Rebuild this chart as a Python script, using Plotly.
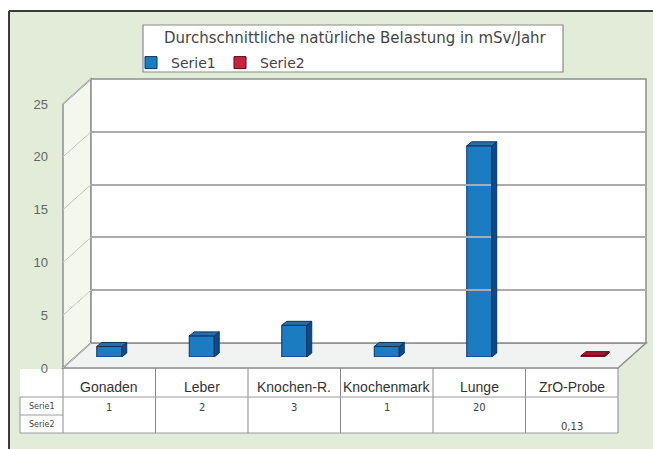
import plotly.graph_objects as go

# ---- data -------------------------------------------------------------
categories = ["Gonaden", "Leber", "Knochen-R.", "Knochenmark", "Lunge", "ZrO-Probe"]
serie1 = [1, 2, 3, 1, 20, None]
serie2 = [None, None, None, None, None, 0.13]
series_names = ["Serie1", "Serie2"]
y_ticks = [0, 5, 10, 15, 20, 25]
title_text = "Durchschnittliche natürliche Belastung in mSv/Jahr"

# ---- page geometry (pixels) ------------------------------------------
W, H = 653, 449


def px(x):
    return x / W


def py(y):
    return 1 - y / H


FRONT_L, FRONT_R = 63, 618        # front edge of the floor
FRONT_BOTTOM, FRONT_TOP = 368, 104  # value 0 / value 25 on the front plane
DEPTH_X, DEPTH_Y = 28, -25        # offset from front plane to back wall
BAR_LIFT = 11                     # bars stand part-way into the box
Y_MAX = 25
n = len(categories)
col_w = (FRONT_R - FRONT_L) / n
unit_px = (FRONT_BOTTOM - FRONT_TOP) / Y_MAX

front_xdom = [px(FRONT_L), px(FRONT_R)]
front_ydom = [py(FRONT_BOTTOM), py(FRONT_TOP)]
bar_ydom = [py(FRONT_BOTTOM - BAR_LIFT), py(FRONT_TOP - BAR_LIFT)]
back_xdom = [px(FRONT_L + DEPTH_X), px(FRONT_R + DEPTH_X)]
back_ydom = [py(FRONT_BOTTOM + DEPTH_Y), py(FRONT_TOP + DEPTH_Y)]

# bar extrusion, in axis units
SIDE_DX = 5 / col_w
TOP_DY = 4 / unit_px

styles = [
    dict(width=0.27, offset=-0.135, front="#1b7cc1", side="#0d4b86",
         top="#2a6ea9", edge="#0a3361"),
    dict(width=0.25, offset=0.10, front="#c8233f", side="#7c1124",
         top="#9b1a2f", edge="#5a0a16"),
]

GREEN = "#e3ecd8"
EDGE = "#8e8e8e"
FONT = "DejaVu Sans, Liberation Sans, Arial, sans-serif"
SANS = "Liberation Sans, Arial, sans-serif"

fig = go.Figure()

# invisible carriers so every axis pair gets drawn
fig.add_trace(go.Scatter(x=categories, y=[None] * n, xaxis="x", yaxis="y",
                         showlegend=False, hoverinfo="skip"))
fig.add_trace(go.Scatter(x=categories, y=[None] * n, xaxis="x3", yaxis="y3",
                         showlegend=False, hoverinfo="skip"))

shapes = []
annotations = []

# front faces of the columns + their side/top faces
for name, vals, st in zip(series_names, [serie1, serie2], styles):
    fig.add_trace(go.Bar(
        x=categories, y=vals, name=name, xaxis="x2", yaxis="y2",
        width=st["width"], offset=st["offset"],
        marker=dict(color=st["front"], line=dict(color=st["edge"], width=1)),
        hoverinfo="skip",
    ))
    for i, v in enumerate(vals):
        if v is None:
            continue
        xl = i + st["offset"]
        xr = xl + st["width"]
        side = (f"M {xr},0 L {xr + SIDE_DX},{TOP_DY} "
                f"L {xr + SIDE_DX},{v + TOP_DY} L {xr},{v} Z")
        top = (f"M {xl},{v} L {xl + SIDE_DX},{v + TOP_DY} "
               f"L {xr + SIDE_DX},{v + TOP_DY} L {xr},{v} Z")
        for path, col in ((side, st["side"]), (top, st["top"])):
            shapes.append(dict(type="path", path=path, xref="x2", yref="y2",
                               fillcolor=col, line=dict(color=st["edge"], width=1),
                               layer="above"))

# ---- background panel and frame --------------------------------------
shapes.append(dict(type="rect", xref="paper", yref="paper", x0=px(9), x1=1,
                   y0=0, y1=py(11), fillcolor=GREEN, line=dict(width=0),
                   layer="below"))
shapes.append(dict(type="line", xref="paper", yref="paper", x0=px(9), x1=px(9),
                   y0=0, y1=py(11), line=dict(color="#3a3a3a", width=2), layer="below"))
shapes.append(dict(type="line", xref="paper", yref="paper", x0=px(9), x1=1,
                   y0=py(11), y1=py(11), line=dict(color="#3a3a3a", width=2), layer="below"))


def poly(points):
    return "M " + " L ".join(f"{px(x)},{py(y)}" for x, y in points) + " Z"


# left wall
shapes.append(dict(type="path", xref="paper", yref="paper", layer="below",
                   path=poly([(FRONT_L, FRONT_BOTTOM), (FRONT_L, FRONT_TOP),
                              (FRONT_L + DEPTH_X, FRONT_TOP + DEPTH_Y),
                              (FRONT_L + DEPTH_X, FRONT_BOTTOM + DEPTH_Y)]),
                   fillcolor="#f4f7ee", line=dict(color=EDGE, width=1.5)))
# floor
shapes.append(dict(type="path", xref="paper", yref="paper", layer="below",
                   path=poly([(FRONT_L, FRONT_BOTTOM), (FRONT_R, FRONT_BOTTOM),
                              (FRONT_R + DEPTH_X, FRONT_BOTTOM + DEPTH_Y),
                              (FRONT_L + DEPTH_X, FRONT_BOTTOM + DEPTH_Y)]),
                   fillcolor="#f1f2f2", line=dict(color=EDGE, width=1.5)))
# back wall
shapes.append(dict(type="rect", xref="x3 domain", yref="y3 domain", x0=0, x1=1,
                   y0=0, y1=1, fillcolor="white", line=dict(color=EDGE, width=1.5),
                   layer="below"))
# grid lines running across the left wall
for t in y_ticks:
    yf = FRONT_BOTTOM - t * unit_px
    shapes.append(dict(type="line", xref="paper", yref="paper", layer="below",
                       x0=px(FRONT_L), y0=py(yf),
                       x1=px(FRONT_L + DEPTH_X), y1=py(yf + DEPTH_Y),
                       line=dict(color="#c4c4c4", width=1)))

# ---- legend box with title -------------------------------------------
shapes.append(dict(type="rect", xref="paper", yref="paper", layer="below",
                   x0=px(143), x1=px(563), y0=py(72), y1=py(25),
                   fillcolor="white", line=dict(color="#8a8a8a", width=1.2)))
annotations.append(dict(text=title_text, xref="paper", yref="paper",
                        x=px(355), y=py(38), showarrow=False,
                        xanchor="center", yanchor="middle",
                        font=dict(family=FONT, size=15, color="#454545")))

# ---- data table under the chart --------------------------------------
TAB_L, TAB_TOP, TAB_HEAD, TAB_MID, TAB_BOT = 20, FRONT_BOTTOM, 397, 415, 433
shapes.append(dict(type="rect", xref="paper", yref="paper", layer="below",
                   x0=px(TAB_L), x1=px(FRONT_R), y0=py(TAB_BOT), y1=py(TAB_TOP + 1),
                   fillcolor="white", line=dict(width=0)))
for k in range(n + 1):
    xk = FRONT_L + k * col_w
    shapes.append(dict(type="line", xref="paper", yref="paper", layer="below",
                       x0=px(xk), x1=px(xk), y0=py(TAB_TOP), y1=py(TAB_BOT),
                       line=dict(color="#8a8a8a", width=1)))
for yy in (TAB_HEAD, TAB_MID, TAB_BOT):
    shapes.append(dict(type="line", xref="paper", yref="paper", layer="below",
                       x0=px(TAB_L), x1=px(FRONT_R if yy != TAB_MID else FRONT_L),
                       y0=py(yy), y1=py(yy),
                       line=dict(color="#9a9a9a", width=1)))
shapes.append(dict(type="line", xref="paper", yref="paper", layer="below",
                   x0=px(TAB_L), x1=px(TAB_L), y0=py(TAB_HEAD), y1=py(TAB_BOT),
                   line=dict(color="#9a9a9a", width=1)))

for i, cat in enumerate(categories):
    cx = FRONT_L + (i + 0.5) * col_w
    annotations.append(dict(text=cat, xref="paper", yref="paper", x=px(cx),
                            y=py(387), showarrow=False, xanchor="center",
                            yanchor="middle",
                            font=dict(family=SANS, size=14, color="#333333")))
    for vals, ry in ((serie1, 407), (serie2, 426)):
        v = vals[i]
        if v is None:
            continue
        annotations.append(dict(text=f"{v:g}".replace(".", ","), xref="paper",
                                yref="paper", x=px(cx), y=py(ry), showarrow=False,
                                xanchor="center", yanchor="middle",
                                font=dict(family=FONT, size=10, color="#444444")))
for name, ry in zip(series_names, (406, 424)):
    annotations.append(dict(text=name, xref="paper", yref="paper",
                            x=px((TAB_L + FRONT_L) / 2), y=py(ry), showarrow=False,
                            xanchor="center", yanchor="middle",
                            font=dict(family=FONT, size=8, color="#444444")))

# ---- axes ------------------------------------------------------------
hidden_x = dict(range=[-0.5, n - 0.5], visible=False, type="category",
                categoryorder="array", categoryarray=categories)

fig.update_layout(
    width=W, height=H,
    margin=dict(l=0, r=0, t=0, b=0, pad=0, autoexpand=False),
    paper_bgcolor="white",
    plot_bgcolor="rgba(0,0,0,0)",
    barmode="overlay",
    xaxis=dict(domain=front_xdom, **hidden_x),
    yaxis=dict(domain=front_ydom, range=[0, Y_MAX], anchor="x",
               tickvals=y_ticks, showgrid=False, zeroline=False, showline=False,
               ticks="", ticklabelstandoff=14, automargin=False,
               tickfont=dict(family=SANS, size=13, color="#666666")),
    xaxis2=dict(domain=front_xdom, anchor="y2", **hidden_x),
    yaxis2=dict(domain=bar_ydom, range=[0, Y_MAX], anchor="x2", visible=False),
    xaxis3=dict(domain=back_xdom, anchor="y3", **hidden_x),
    yaxis3=dict(domain=back_ydom, range=[0, Y_MAX], anchor="x3",
                tickvals=y_ticks, showgrid=True, gridcolor="#ababab",
                gridwidth=1.5, showticklabels=False, zeroline=False,
                showline=False, ticks=""),
    showlegend=True,
    legend=dict(orientation="h", x=px(131), y=py(47), xanchor="left",
                yanchor="top", bgcolor="rgba(0,0,0,0)",
                entrywidth=44, entrywidthmode="pixels",
                font=dict(family=FONT, size=14, color="#454545"),
                itemclick=False, itemdoubleclick=False),
    shapes=shapes,
    annotations=annotations,
)

fig.write_html("out.html")
